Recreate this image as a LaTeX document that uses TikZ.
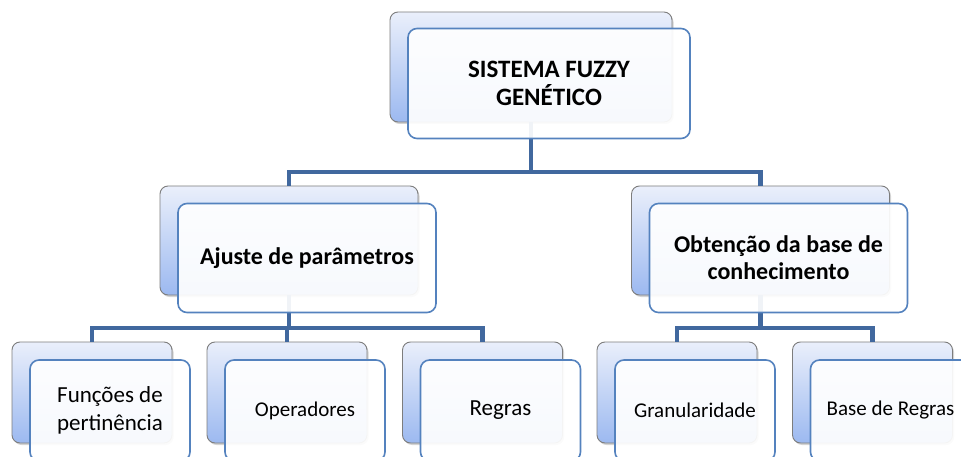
\documentclass[tikz,border=0pt]{standalone}
\usepackage{fontspec}
\setmainfont{Carlito}
\usetikzlibrary{positioning, shadows, calc}

\definecolor{backtop}{RGB}{234,239,251}
\definecolor{backbot}{RGB}{156,185,240}
\definecolor{backline}{RGB}{125,125,125}
\definecolor{frontline}{RGB}{84,130,190}
\definecolor{linkblue}{RGB}{65,104,158}

\begin{document}
\begin{tikzpicture}[x=1pt, y=-1pt]

        % Define styles for the two layers of each box
        \tikzstyle{back} = [rectangle, rounded corners=8pt, inner sep=0pt, outer sep=0pt, draw=backline, line width=0.9pt, top color=backtop, bottom color=backbot, drop shadow={shadow xshift=1.5pt, shadow yshift=-2pt, opacity=0.35}]
        \tikzstyle{front} = [rectangle, rounded corners=9pt, inner sep=0pt, outer sep=0pt, draw=frontline, line width=1.6pt, fill=white, fill opacity=0.92, text opacity=1, align=center, text=black]
        \tikzstyle{topbox} = [minimum width=282pt, minimum height=110pt, font=\fontsize{25}{28}\selectfont\bfseries]
        \tikzstyle{midbox} = [minimum width=258pt, minimum height=109pt, font=\fontsize{24}{27}\selectfont\bfseries]
        \tikzstyle{botbox} = [minimum width=160pt, minimum height=101pt, font=\fontsize{21}{28}\selectfont]
        \tikzstyle{bigtext} = [font=\fontsize{23}{28}\selectfont]

        % Define connector style
        \tikzstyle{link} = [line width=4.5pt, draw=linkblue]

        \useasboundingbox (0,0) rectangle (961,457);
        \clip (0,0) rectangle (961,457);

        % Back boxes
        \node (sysB) [back, topbox] at (531,67) {};
        \node (ajuB) [back, midbox] at (289,240.5) {};
        \node (obtB) [back, midbox] at (760.5,240.5) {};
        \node (funB) [back, botbox] at (92,392.5) {};
        \node (opeB) [back, botbox] at (287,392.5) {};
        \node (regB) [back, botbox] at (482.5,392.5) {};
        \node (graB) [back, botbox] at (677,392.5) {};
        \node (basB) [back, botbox] at (872.5,392.5) {};

        % Connectors
        \draw [link] (sysB.south) -- ++(0,50) -| (ajuB.north);
        \draw [link] (sysB.south) -- ++(0,50) -| (obtB.north);
        \draw [link] (ajuB.south) -- ++(0,33) -| (funB.north);
        \draw [link] (ajuB.south) -- ++(0,33) -| (opeB.north);
        \draw [link] (ajuB.south) -- ++(0,33) -| (regB.north);
        \draw [link] (obtB.south) -- ++(0,33) -| (graB.north);
        \draw [link] (obtB.south) -- ++(0,33) -| (basB.north);

        % Front boxes with the texts
        \node (sys) [front, topbox, shift={(18,16.5)}] at (sysB) {SISTEMA FUZZY\\GENÉTICO};
        \node (aju) [front, midbox, shift={(18,17.5)}] at (ajuB) {Ajuste de parâmetros};
        \node (obt) [front, midbox, shift={(18,17.5)}] at (obtB) {Obtenção da base de\\conhecimento};
        \node (fun) [front, botbox, bigtext, shift={(18,18)}] at (funB) {Funções de\\pertinência};
        \node (ope) [front, botbox, shift={(18,18)}] at (opeB) {Operadores};
        \node (reg) [front, botbox, bigtext, shift={(18,18)}] at (regB) {Regras};
        \node (gra) [front, botbox, shift={(18,18)}] at (graB) {Granularidade};
        \node (bas) [front, botbox, shift={(18,18)}] at (basB) {Base de Regras};

    \end{tikzpicture}
\end{document}
